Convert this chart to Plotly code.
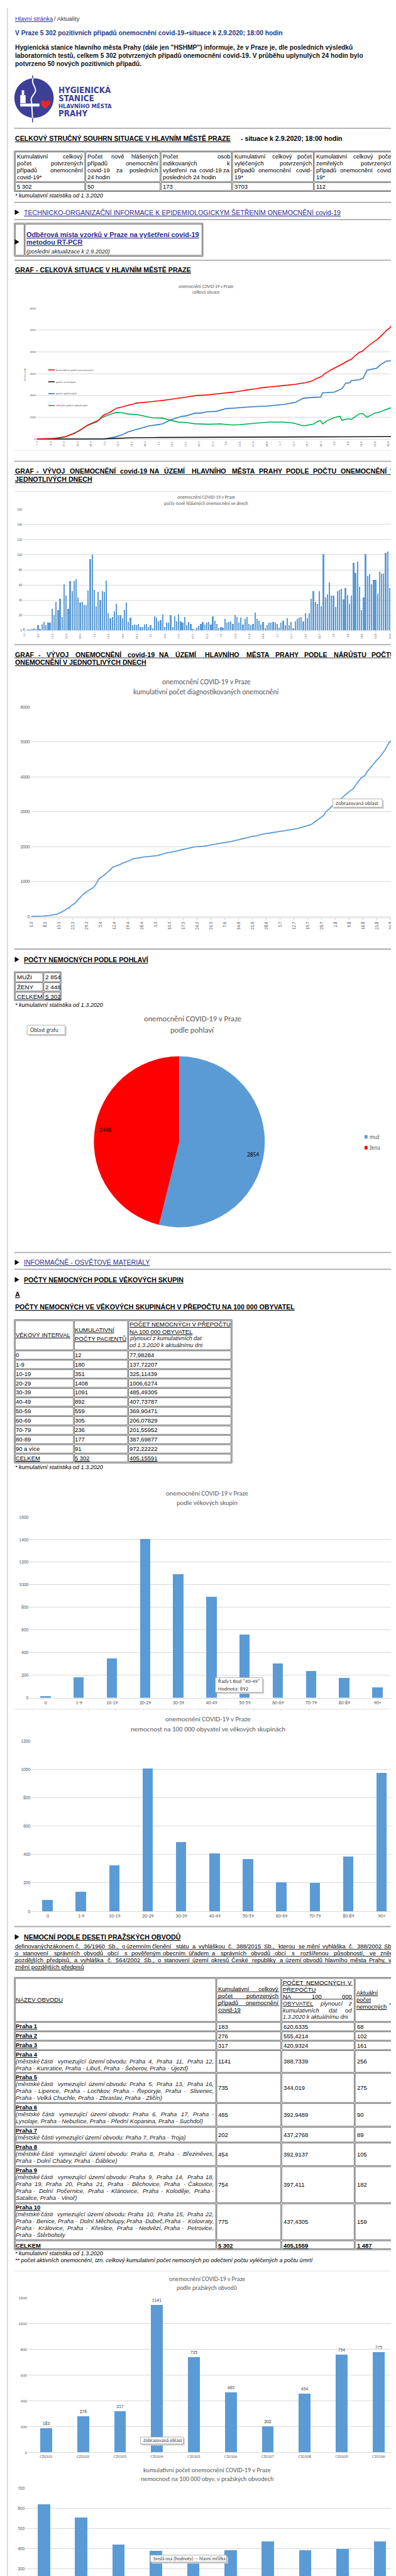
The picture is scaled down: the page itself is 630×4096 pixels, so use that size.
import plotly.graph_objects as go
from itertools import accumulate

# ======================= DATA =======================
SUMMARY_HEADERS = [
    ["Kumulativní celkový", "počet potvrzených", "případů onemocnění", "covid-19*"],
    ["Počet nově hlášených", "případů onemocnění", "covid-19 za posledních", "24 hodin"],
    ["Počet osob", "indikovaných k", "vyšetření na covid-19 za", "posledních 24 hodin"],
    ["Kumulativní celkový počet", "vyléčených potvrzených", "případů onemocnění covid-", "19*"],
    ["Kumulativní celkový počet", "zemřelých potvrzených", "případů onemocnění covid-", "19*"],
]
SUMMARY_VALUES = ["5 302", "50", "173", "3703", "112"]

DATE_TICKS = ["1.3", "8.3", "15.3", "22.3", "29.3", "5.4", "12.4", "19.4", "26.4", "3.5",
              "10.5", "17.5", "24.5", "31.5", "7.6", "14.6", "21.6", "28.6", "5.7", "12.7",
              "19.7", "26.7", "2.8", "9.8", "16.8", "23.8", "30.8"]

DAILY_NEW = [3, 0, 1, 1, 2, 3, 2,
             7, 2, 8, 11, 7, 10, 10,
             29, 20, 38, 27, 42, 18, 61,
             46, 29, 65, 52, 65, 68, 44,
             37, 38, 34, 34, 53, 94, 100,
             54, 32, 51, 40, 52, 51, 66,
             23, 16, 18, 25, 35, 20, 20,
             16, 27, 37, 11, 17, 7, 8,
             7, 9, 5, 5, 8, 9, 5,
             7, 3, 19, 17, 12, 14, 21,
             5, 10, 10, 20, 5, 19, 12,
             21, 12, 10, 18, 7, 11, 9,
             2, 1, 4, 6, 9, 11, 8,
             10, 11, 8, 19, 13, 9, 3,
             5, 4, 15, 10, 11, 12, 9,
             20, 18, 10, 17, 8, 15, 18,
             9, 7, 9, 24, 15, 13, 8,
             11, 3, 7, 10, 10, 11, 10,
             9, 4, 10, 13, 7, 16, 7,
             11, 3, 12, 15, 17, 18, 12,
             23, 16, 23, 42, 52, 38, 35,
             52, 32, 101, 44, 48, 64, 46,
             46, 31, 52, 54, 55, 41, 56,
             47, 35, 46, 89, 76, 91, 58,
             27, 44, 101, 72, 74, 61, 67, 67, 49, 78, 75, 75, 103, 104, 56, 80, 142, 50]

RECOVERED_DAYS = [0, 35, 37, 41, 44, 46, 47, 52, 58, 63, 65, 69, 75, 77, 82, 85, 88, 93, 98, 102,
                  110, 119, 128, 134, 138, 143, 147, 148, 154, 158, 160, 162, 163, 167, 169, 171,
                  174, 176, 178, 181, 183, 185]
RECOVERED = [0, 0, 40, 110, 190, 270, 320, 455, 605, 665, 700, 870, 1045, 1060, 1190, 1190, 1250,
             1270, 1400, 1420, 1475, 1510, 1590, 1685, 1875, 1910, 1925, 2115, 2150, 2305, 2565,
             2580, 2680, 2720, 2790, 3155, 3205, 3245, 3410, 3570, 3585, 3703]

DEATHS_DAYS = [0, 24, 30, 35, 40, 45, 50, 60, 75, 88, 100, 130, 150, 160, 185]
DEATHS = [0, 0, 3, 12, 30, 48, 62, 72, 80, 88, 90, 93, 100, 108, 112]

ACTIVE_DAYS = [0, 7, 10, 14, 16, 21, 26, 31, 34, 37, 39, 41, 44, 47, 52, 56, 60, 65, 69, 73, 78,
               82, 89, 95, 101, 105, 114, 120, 128, 133, 138, 143, 146, 147, 148, 150, 154, 157,
               158, 161, 163, 167, 169, 171, 175, 178, 181, 185]
ACTIVE = [3, 14, 40, 95, 150, 345, 620, 790, 1000, 1110, 1170, 1220, 1210, 1155, 1120, 1035, 970,
          960, 870, 780, 755, 700, 680, 695, 645, 660, 735, 775, 775, 735, 605, 680, 830, 840,
          695, 830, 985, 1045, 860, 925, 910, 1160, 1160, 1000, 1190, 1250, 1360, 1487]

SEX_LEGEND = ["muž", "žena"]
SEX_VALUES = [2854, 2448]
SEX_TABLE_LABELS = ["MUŽI", "ŽENY", "CELKEM"]
SEX_TABLE_VALUES = ["2 854", "2 448", "5 302"]

AGE_INTERVALS = ["0", "1-9", "10-19", "20-29", "30-39", "40-49", "50-59", "60-69", "70-79",
                 "80-89", "90 a více"]
AGE_CHART_LABELS = ["0", "1-9", "10-19", "20-29", "30-39", "40-49", "50-59", "60-69", "70-79",
                    "80-89", "90+"]
AGE_CASES = [12, 180, 351, 1408, 1091, 892, 559, 305, 236, 177, 91]
AGE_RATE = [77.98284, 137.72207, 325.11439, 1006.6274, 485.49305, 407.73787, 369.90471,
            206.07829, 201.55952, 387.69877, 972.22222]
AGE_TOTAL = ["CELKEM", "5 302", "405,15591"]

DISTRICTS = ["Praha 1", "Praha 2", "Praha 3", "Praha 4", "Praha 5", "Praha 6", "Praha 7",
             "Praha 8", "Praha 9", "Praha 10"]
DISTRICT_NOTES = [
    [], [], [],
    ["(městské části vymezující území obvodu: Praha 4, Praha 11, Praha 12,",
     "Praha - Kunratice, Praha - Libuš, Praha - Šeberov, Praha - Újezd)"],
    ["(městské části vymezující území obvodu: Praha 5, Praha 13, Praha 16,",
     "Praha - Lipence, Praha - Lochkov, Praha - Řeporyje, Praha - Slivenec,",
     "Praha - Velká Chuchle, Praha - Zbraslav, Praha - Zličín)"],
    ["(městské části vymezující území obvodu: Praha 6, Praha 17, Praha -",
     "Lysolaje, Praha - Nebušice, Praha - Přední Kopanina, Praha - Suchdol)"],
    ["(městské části vymezující území obvodu: Praha 7, Praha - Troja)"],
    ["(městské části vymezující území obvodu: Praha 8, Praha - Březiněves,",
     "Praha - Dolní Chabry, Praha - Ďáblice)"],
    ["(městské části vymezující území obvodu: Praha 9, Praha 14, Praha 18,",
     "Praha 19, Praha 20, Praha 21, Praha - Běchovice, Praha - Čakovice,",
     "Praha - Dolní Počernice, Praha - Klánovice, Praha - Koloděje, Praha -",
     "Satalice, Praha - Vinoř)"],
    ["(městské části vymezující území obvodu: Praha 10, Praha 15, Praha 22,",
     "Praha - Benice, Praha - Dolní Měcholupy, Praha -Dubeč, Praha - Kolovraty,",
     "Praha - Královice, Praha - Křeslice, Praha - Nedvězí, Praha - Petrovice,",
     "Praha - Štěrboholy"],
]
DISTRICT_CODES = ["CZ0101", "CZ0102", "CZ0103", "CZ0104", "CZ0105", "CZ0106", "CZ0107",
                  "CZ0108", "CZ0109", "CZ010A"]
DIST_CASES = [183, 276, 317, 1141, 735, 465, 202, 454, 754, 775]
DIST_RATE = [620.6335, 555.4214, 420.9324, 388.7339, 344.019, 392.9489, 437.2768, 392.9137,
             397.411, 437.4305]
DIST_ACTIVE = [68, 102, 161, 256, 275, 90, 89, 105, 182, 159]
DIST_TOTAL = ["CELKEM", "5 302", "405,1559", "1 487"]

# ======================= HELPERS =======================
S = 0.787
W, H = 800.0, 5200.0
PAGE = "Liberation Sans, Arial, sans-serif"
NARROW = "Liberation Sans Narrow, Arial Narrow, DejaVu Sans Condensed, Roboto, sans-serif"
CHART = "Carlito, Calibri, Lato, sans-serif"
TXT = "#595959"
GRID = "#D9D9D9"
BAR = "#5B9BD5"
LINKC = "#2B2B9A"
BORDER = "#404040"
HEAD = 13.5
LINKSZ = 13.5

ann, shp = [], []


def px(x):
    return x / W


def py(y):
    return 1 - y / H


def clamp(v):
    return max(0.0, min(1.0, v))


def fmt(s, b=False, i=False, u=False):
    if u:
        s = "<u>" + s + "</u>"
    if i:
        s = "<i>" + s + "</i>"
    if b:
        s = "<b>" + s + "</b>"
    return s


def T(x, y, s, size=12, color="#000000", b=False, i=False, u=False, anchor="left",
      font=PAGE, angle=0):
    ann.append(dict(x=px(x), y=py(y), xref="paper", yref="paper", text=fmt(s, b, i, u),
                    showarrow=False, xanchor=anchor, yanchor="middle", textangle=angle,
                    borderpad=0, font=dict(size=size * S, color=color, family=font)))


def L(x0, y0, x1, y1, color="#A0A0A0", w=1):
    shp.append(dict(type="line", xref="paper", yref="paper", x0=px(x0), y0=py(y0),
                    x1=px(x1), y1=py(y1), line=dict(color=color, width=w * S)))


def R(x0, y0, x1, y1, line=BORDER, fill="rgba(0,0,0,0)", w=1):
    shp.append(dict(type="rect", xref="paper", yref="paper", x0=px(x0), y0=py(y0),
                    x1=px(x1), y1=py(y1), fillcolor=fill,
                    line=dict(color=line, width=w * S)))


def PATH(pts, fill=None, line=None, w=1, closed=True):
    d = ""
    for p in pts:
        if isinstance(p, str):
            d += p + " "
        else:
            d += "%.6f,%.6f " % (px(p[0]), py(p[1]))
    if closed:
        d += "Z"
    shp.append(dict(type="path", xref="paper", yref="paper", path=d,
                    fillcolor=fill if fill else "rgba(0,0,0,0)",
                    line=dict(color=line if line else "rgba(0,0,0,0)", width=w * S)))


def HR(y):
    L(15, y, 789, y, "#A0A0A0", 2)


def TRI(y):
    PATH(["M", (16, y - 5.5), "L", (16, y + 5.5), "L", (25, y)], fill="#000000")


def est_w(word, size, b=False):
    t = 0.0
    for ch in word:
        if ch.isupper():
            t += 0.72 if b else 0.67
        elif ch.islower():
            t += 0.53 if b else 0.48
        elif ch.isdigit():
            t += 0.556
        elif ch == " ":
            t += 0.278
        else:
            t += 0.30
    return t * size


def JUST(items, x0, x1, y, size=12, color="#000000", b=False, i=False, ul=False, font=PAGE):
    if isinstance(items, str):
        items = [(w, {}) for w in items.split()]
    if ul:
        L(x0, y + 0.5 * size, x1, y + 0.5 * size, color, 1)
    n = len(items)
    ws = [est_w(w, size, b) for w, f in items]
    if n == 1:
        w, f = items[0]
        T(x0, y, w, size, color, b, f.get("i", i), f.get("u", False), "left", font)
        return
    gap = (x1 - x0 - sum(ws)) / (n - 1)
    pos = x0
    for k, ((w, f), ww) in enumerate(zip(items, ws)):
        ii = f.get("i", i)
        uu = f.get("u", False)
        if k == 0:
            T(x0, y, w, size, color, b, ii, uu, "left", font)
        elif k == n - 1:
            T(x1, y, w, size, color, b, ii, uu, "right", font)
        else:
            T(pos + ww / 2, y, w, size, color, b, ii, uu, "center", font)
        pos += ww + gap


def TABLE(cols, rows):
    R(cols[0], rows[0], cols[-1], rows[-1])
    nc, nr = len(cols) - 1, len(rows) - 1
    for a in range(nc):
        for r in range(nr):
            x0 = cols[a] + 2
            x1 = cols[a + 1] if a < nc - 1 else cols[-1] - 2
            y0 = rows[r] + 2
            y1 = rows[r + 1] if r < nr - 1 else rows[-1] - 2
            R(x0, y0, x1, y1)


def TIP(x0, y0, x1, y1, lines, size=11):
    R(x0 + 3, y0 + 3, x1 + 3, y1 + 3, line="rgba(0,0,0,0)", fill="#CFCFCF")
    R(x0, y0, x1, y1, line="#9A9A9A", fill="#FFFFFF")
    n = len(lines)
    step = (y1 - y0) / n
    for k, s in enumerate(lines):
        T(x0 + 5, y0 + step * (k + 0.5), s, size, "#404040", font=CHART)


def ymap(va, pa, vb, pb, r0, r1):
    k = (pb - pa) / (vb - va)
    f = lambda v: pa + (v - va) * k
    return [clamp(1 - f(r0) / H), clamp(1 - f(r1) / H)], [r0, r1]


def xmap(va, pa, vb, pb, p0, p1):
    k = (pb - pa) / (vb - va)
    inv = lambda p: va + (p - pa) / k
    return [clamp(p0 / W), clamp(p1 / W)], [inv(p0), inv(p1)]


def yax(dom, rng, tickvals, size, anchor):
    return dict(domain=dom, range=rng, anchor=anchor, tickvals=tickvals,
                tickfont=dict(size=size * S, color=TXT, family=CHART), showgrid=True,
                gridcolor=GRID, gridwidth=1, zeroline=False, showline=False, ticks="",
                fixedrange=True)


def xcat(dom, n, size, anchor, showlabels=True):
    return dict(domain=dom, range=[-0.5, n - 0.5], anchor=anchor, type="category",
                tickfont=dict(size=size * S, color=TXT, family=CHART), showgrid=False,
                zeroline=False, showline=True, linecolor=GRID, linewidth=1, ticks="",
                showticklabels=showlabels, fixedrange=True)


# ======================= PAGE TEXT =======================
L(1, 0, 1, 5200, "#C4C4C4", 1.5)

T(15, 21, "Hlavní stránka", 12, LINKC, u=True)
T(95, 21, "/ Aktuality", 12, "#333333")
T(15, 50, "V Praze 5 302 pozitivních případů onemocnění covid-19-•situace k 2.9.2020; 18:00 hodin",
  13, "#1B3A8C", b=True)
para = ['Hygienická stanice hlavního města Prahy (dále jen "HSHMP") informuje, že v Praze je, dle posledních výsledků',
        "laboratorních testů, celkem 5 302 potvrzených případů onemocnění covid-19. V průběhu uplynulých 24 hodin bylo",
        "potvrzeno 50 nových pozitivních případů."]
for k, s in enumerate(para):
    T(15, 80 + 16 * k, s, 13, "#111111", b=True)

# logo
LOGO = "#3D3F97"
shp.append(dict(type="circle", xref="paper", yref="paper", x0=px(15), x1=px(95),
                y0=py(222), y1=py(142), fillcolor=LOGO, line=dict(width=0)))
L(52, 136, 52, 144, LOGO, 2)
L(52, 221, 52, 231, LOGO, 2)
PATH(["M", (53, 142), "C", (48, 152), (60, 160), (58, 168), "C", (56, 176), (46, 180), (50, 190),
      "L", (52, 222)], line="#FFFFFF", w=2.5, closed=False)
R(27, 176, 38, 192, line="rgba(0,0,0,0)", fill="#FFFFFF")
R(30, 166, 35, 176, line="rgba(0,0,0,0)", fill="#FFFFFF")
R(27, 193, 66, 199, line="rgba(0,0,0,0)", fill="#FFFFFF")
PATH(["M", (78, 204), "C", (70, 197), (67, 192), (70, 188), "C", (73, 185), (77, 186), (79, 190),
      "C", (81, 186), (86, 185), (88, 188), "C", (90, 192), (86, 197), (78, 204)], fill="#E3262D")
T(103, 165, "HYGIENICKÁ", 17, LOGO, b=True, font=NARROW)
T(103, 182, "STANICE", 17, LOGO, b=True, font=NARROW)
T(103, 198, "HLAVNÍHO MĚSTA", 12, LOGO, b=True, font=NARROW)
T(103, 213, "PRAHY", 17, LOGO, b=True, font=NARROW)

HR(243)
T(15, 264, "CELKOVÝ STRUČNÝ SOUHRN SITUACE V HLAVNÍM MĚSTĚ PRAZE", HEAD, "#000000", b=True,
  u=True)
T(473, 264, "- situace k 2.9.2020; 18:00 hodin", HEAD, "#000000", b=True)

# summary table
cols1 = [15, 158, 311, 456, 622, 789]
TABLE(cols1, [289, 351, 371])
for c in range(5):
    x0 = cols1[c] + 4
    x1 = cols1[c + 1] - (2 if c < 4 else 4)
    lines = SUMMARY_HEADERS[c]
    for k, s in enumerate(lines):
        yy = 300 + 14 * k
        if k < len(lines) - 1:
            JUST(s, x0, x1, yy, 12, "#000000")
        else:
            T(x0, yy, s, 12, "#000000")
    T(x0, 361, SUMMARY_VALUES[c], 12, "#000000")
T(15, 379, "* kumulativní statistika od 1.3.2020", 11.5, "#000000", i=True)
HR(393)
TRI(413)
T(33, 413, "TECHNICKO-ORGANIZAČNÍ INFORMACE K EPIDEMIOLOGICKÝM ŠETŘENÍM ONEMOCNĚNÍ covid-19",
  LINKSZ, LINKC, u=True)
HR(428)

# odberova mista box
R(15, 435, 398, 502)
R(17, 437, 35, 500)
R(37, 437, 396, 500)
TRI(473)
T(38, 458, "Odběrová místa vzorků v Praze na vyšetření covid-19", 13.8, LINKC, b=True, u=True)
T(38, 474, "metodou RT-PCR", 13.8, LINKC, b=True, u=True)
T(38, 492, "(poslední aktualizace k 2.9.2020)", 11.5, "#222222", i=True)
HR(510)
T(15, 530, "GRAF - CELKOVÁ SITUACE V HLAVNÍM MĚSTĚ PRAZE", HEAD, "#000000", b=True, u=True)

# ---------------- chart 1 ----------------
T(405, 563, "onemocnění COVID-19 v Praze", 9, TXT, anchor="center", font=CHART)
T(405, 575, "celková situace", 9, TXT, anchor="center", font=CHART)
T(36, 740, "Počet osob", 5.5, TXT, anchor="center", font=CHART, angle=-90)
legend_items = [("kumulativní počet onemocnění", "#FF0000"), ("počet zemřelých", "#1A1A1A"),
                ("počet vyléčených", "#2E78C7"), ("aktuální počet nakažených", "#00B050")]
for k, (s, c) in enumerate(legend_items):
    yy = 732 + 24 * k
    L(84, yy, 97, yy, c, 2)
    T(98, yy, s, 6, TXT, font=CHART)
L(15, 895, 797, 895, "#DDDDDD", 1)

HR(917)
JUST("GRAF - VÝVOJ ONEMOCNĚNÍ covid-19 NA ÚZEMÍ HLAVNÍHO MĚSTA PRAHY PODLE POČTU ONEMOCNĚNÍ V",
     15, 789, 937, HEAD, "#000000", b=True, ul=True)
T(15, 953, "JEDNOTLIVÝCH DNECH", HEAD, "#000000", b=True, u=True)
L(15, 978, 797, 978, "#DDDDDD", 1)
T(405, 990, "onemocnění COVID-19 v Praze", 9.5, TXT, anchor="center", font=CHART)
T(405, 1002, "počty nově hlášených onemocnění ve dnech", 9.5, TXT, anchor="center", font=CHART)
HR(1288)

JUST("GRAF - VÝVOJ ONEMOCNĚNÍ covid-19 NA ÚZEMÍ HLAVNÍHO MĚSTA PRAHY PODLE NÁRŮSTU POČTU",
     15, 789, 1308, HEAD, "#000000", b=True, ul=True)
T(15, 1324, "ONEMOCNĚNÍ V JEDNOTLIVÝCH DNECH", HEAD, "#000000", b=True, u=True)
T(405, 1363, "onemocnění COVID-19 v Praze", 14.5, TXT, anchor="center", font=CHART)
T(405, 1383, "kumulativní počet diagnostikovaných onemocnění", 14.5, TXT, anchor="center",
  font=CHART)
TIP(661, 1600, 762, 1617, ["Zobrazovaná oblast"], 11)

HR(1904)
TRI(1925)
T(33, 1925, "POČTY NEMOCNÝCH PODLE POHLAVÍ", HEAD, "#000000", b=True, u=True)
colsS = [15, 73, 110]
rowsS = [1950, 1970, 1989, 2008]
TABLE(colsS, rowsS)
for k in range(3):
    yy = (rowsS[k] + rowsS[k + 1]) / 2 + 1
    T(19, yy, SEX_TABLE_LABELS[k], 12.5, "#000000")
    T(76, yy, SEX_TABLE_VALUES[k], 12.5, "#000000", u=(k == 2))
T(15, 2017, "* kumulativní statistika od 1.3.2020", 11.5, "#000000", i=True)
T(377, 2044, "onemocnění COVID-19 v Praze", 16, TXT, anchor="center", font=CHART)
T(377, 2068, "podle pohlaví", 16, TXT, anchor="center", font=CHART)
TIP(41, 2058, 118, 2077, ["Oblast grafu"], 11.5)
T(200, 2271, str(SEX_VALUES[1]), 12, "#000000", anchor="center", font=CHART)
T(500, 2320, str(SEX_VALUES[0]), 12, "#000000", anchor="center", font=CHART)
for k, (s, c) in enumerate(zip(SEX_LEGEND, [BAR, "#FF0000"])):
    yy = 2284 + 22 * k
    R(726, yy - 3.5, 732, yy + 3.5, line="rgba(0,0,0,0)", fill=c)
    T(735, yy, s, 11.5, TXT, font=CHART)

HR(2518)
TRI(2538)
T(33, 2538, "INFORMAČNĚ - OSVĚTOVÉ MATERIÁLY", LINKSZ, LINKC, u=True)
HR(2552)
TRI(2573)
T(33, 2573, "POČTY NEMOCNÝCH PODLE VĚKOVÝCH SKUPIN", HEAD, "#000000", b=True, u=True)
T(15, 2602, "A", HEAD, "#000000", b=True, u=True)
T(15, 2628, "POČTY NEMOCNÝCH VE VĚKOVÝCH SKUPINÁCH V PŘEPOČTU NA 100 000 OBYVATEL", HEAD,
  "#000000", b=True, u=True)

# age table
colsA = [15, 135, 245, 457]
rowsA = [2654] + [2715 + 19 * k for k in range(13)]
rowsA[-1] = 2944
TABLE(colsA, rowsA)
T(17, 2685, "VĚKOVÝ INTERVAL", 12, "#000000", u=True)
T(137, 2675, "KUMULATIVNÍ", 12, "#000000", u=True)
T(137, 2692, "POČTY PACIENTŮ", 12, "#000000", u=True)
T(248, 2663, "POČET NEMOCNÝCH V PŘEPOČTU", 12, "#000000", u=True)
T(248, 2678, "NA 100 000 OBYVATEL", 12, "#000000", u=True)
T(248, 2692, "plynoucí z kumulativních dat", 11.5, "#222222", i=True)
T(248, 2706, "od 1.3.2020 k aktuálnímu dni", 11.5, "#222222", i=True)
for k in range(11):
    yy = 2725 + 19 * k
    T(17, yy, AGE_INTERVALS[k], 12, "#000000")
    T(137, yy, str(AGE_CASES[k]), 12, "#000000")
    T(248, yy, str(AGE_RATE[k]).replace(".", ","), 12, "#000000")
yy = 2725 + 19 * 11
T(17, yy, AGE_TOTAL[0], 12, "#000000", u=True)
T(137, yy, AGE_TOTAL[1], 12, "#000000", u=True)
T(248, yy, AGE_TOTAL[2], 12, "#000000", u=True)
T(15, 2952, "* kumulativní statistika od 1.3.2020", 11.5, "#000000", i=True)

T(406, 3005, "onemocnění COVID-19 v Praze", 13.5, TXT, anchor="center", font=CHART)
T(406, 3025, "podle věkových skupin", 13.5, TXT, anchor="center", font=CHART)
TIP(423, 3378, 519, 3408, ['Řady1 Bod "40-49"', "Hodnota: 892"], 11)
L(15, 3442, 797, 3442, "#D6D6D6", 1)
for k in range(14):
    xx = 53 + 56 * k
    L(xx, 3442, xx, 3446, "#D6D6D6", 1)
T(408, 3462, "onemocnění COVID-19 v Praze", 14, TXT, anchor="center", font=CHART)
T(408, 3482, "nemocnost na 100 000 obyvatel ve věkových skupinách", 14, TXT, anchor="center",
  font=CHART)

HR(3882)
TRI(3903)
T(33, 3903, "NEMOCNÍ PODLE DESETI PRAŽSKÝCH OBVODŮ", HEAD, "#000000", b=True, u=True)
law = ["definovaných zákonem č. 36/1960 Sb., o územním členění státu a vyhláškou č. 388/2015 Sb., kterou se mění vyhláška č. 388/2002 Sb.,",
       "o stanovení správních obvodů obcí s pověřeným obecním úřadem a správních obvodů obcí s rozšířenou působností, ve znění",
       "pozdějších předpisů, a vyhláška č. 564/2002 Sb., o stanovení území okresů České republiky a území obvodů hlavního města Prahy, ve"]
for k, s in enumerate(law):
    JUST(s, 15, 789, 3922 + 14 * k, 12, "#000000", ul=True)
T(15, 3964, "znění pozdějších předpisů", 12, "#000000", u=True)

# districts table
colsD = [15, 424, 556, 705, 789]
rowsD = [3985, 4074, 4093, 4112, 4131, 4177, 4238, 4286, 4318, 4366, 4441, 4516, 4536]
TABLE(colsD, rowsD)
T(17, 4030, "NÁZEV OBVODU", 12, "#000000", u=True)
for k, s in enumerate(["Kumulativní celkový", "počet potvrzených", "případů onemocnění"]):
    JUST(s, 427, 553, 4008 + 14 * k, 12, "#000000", ul=True)
T(427, 4050, "covid-19", 12, "#000000", u=True)
JUST("POČET NEMOCNÝCH V", 559, 702, 3995, 12, "#000000", ul=True)
T(559, 4009, "PŘEPOČTU", 12, "#000000", u=True)
JUST("NA 100 000", 559, 702, 4023, 12, "#000000", ul=True)
JUST([("OBYVATEL", {"u": True}), ("plynoucí", {"i": True}), ("z", {"i": True})],
     559, 702, 4037, 12, "#222222")
JUST("kumulativních dat od", 559, 702, 4051, 12, "#222222", i=True)
T(559, 4065, "1.3.2020 k aktuálnímu dni", 11.5, "#222222", i=True)
T(708, 4016, "Aktuální", 12, "#000000", u=True)
T(708, 4030, "počet", 12, "#000000", u=True)
T(708, 4044, "nemocných", 12, "#000000", u=True)
T(775, 4041, "**", 9, "#000000")
for k in range(10):
    top, bot = rowsD[k + 1], rowsD[k + 2]
    T(17, top + 9, DISTRICTS[k], 12, "#000000", b=True, u=True)
    notes = DISTRICT_NOTES[k]
    for j, s in enumerate(notes):
        yy = top + 23 + 14 * j
        if j < len(notes) - 1:
            JUST(s, 17, 421, yy, 12, "#222222", i=True)
        else:
            T(17, yy, s, 12, "#222222", i=True)
    yc = (top + bot) / 2 + 1
    T(428, yc, str(DIST_CASES[k]), 12, "#000000")
    T(560, yc, str(DIST_RATE[k]).replace(".", ","), 12, "#000000")
    T(709, yc, str(DIST_ACTIVE[k]), 12, "#000000")
yc = (rowsD[-2] + rowsD[-1]) / 2 + 1
T(17, yc, DIST_TOTAL[0], 12, "#000000", b=True, u=True)
T(428, yc, DIST_TOTAL[1], 12, "#000000", b=True, u=True)
T(560, yc, DIST_TOTAL[2], 12, "#000000", b=True, u=True)
T(709, yc, DIST_TOTAL[3], 12, "#000000", b=True, u=True)
T(15, 4543, "* kumulativní statistika od 1.3.2020", 11.5, "#000000", i=True)
T(15, 4557, "** počet aktivních onemocnění, tzn. celkový kumulativní počet nemocných po odečtení počtu vyléčených a počtu úmrtí",
  11.5, "#000000", i=True)
L(15, 4579, 797, 4579, "#DDDDDD", 1)
T(406, 4596, "onemocnění COVID-19 v Praze", 12.5, TXT, anchor="center", font=CHART)
T(406, 4613, "podle pražských obvodů", 12.5, TXT, anchor="center", font=CHART)
TIP(271, 4915, 358, 4929, ["Zobrazovaná oblast"], 10)
T(407, 4982, "kumulativní počet onemocnění COVID-19 v Praze", 13, TXT, anchor="center",
  font=CHART)
T(407, 4999, "nemocnost na 100 000 obyv. v pražských obvodech", 13, TXT, anchor="center",
  font=CHART)
TIP(291, 5154, 446, 5168, ["Svislá osa (hodnoty)  – hlavní mřížka"], 10)

# ======================= TRACES =======================
days = list(range(len(DAILY_NEW)))
cumulative = list(accumulate(DAILY_NEW))
tick_pos = days[::7]

fig = go.Figure()
# chart 1
fig.add_trace(go.Scatter(x=ACTIVE_DAYS, y=ACTIVE, mode="lines", xaxis="x", yaxis="y",
                         line=dict(color="#00B050", width=2 * S), hoverinfo="skip"))
fig.add_trace(go.Scatter(x=RECOVERED_DAYS, y=RECOVERED, mode="lines", xaxis="x", yaxis="y",
                         line=dict(color="#2E78C7", width=2 * S), hoverinfo="skip"))
fig.add_trace(go.Scatter(x=DEATHS_DAYS, y=DEATHS, mode="lines", xaxis="x", yaxis="y",
                         line=dict(color="#1A1A1A", width=2 * S), hoverinfo="skip"))
fig.add_trace(go.Scatter(x=days, y=cumulative, mode="lines", xaxis="x", yaxis="y",
                         line=dict(color="#FF0000", width=2 * S), hoverinfo="skip"))
# chart 2
fig.add_trace(go.Bar(x=days, y=DAILY_NEW, xaxis="x2", yaxis="y2", width=0.55,
                     marker=dict(color=BAR, line=dict(width=0)), hoverinfo="skip"))
# chart 3
fig.add_trace(go.Scatter(x=days, y=cumulative, mode="lines", xaxis="x3", yaxis="y3",
                         line=dict(color=BAR, width=2.3 * S), hoverinfo="skip"))
# pie
fig.add_trace(go.Pie(values=SEX_VALUES, labels=SEX_LEGEND, sort=False, direction="clockwise",
                     rotation=0, textinfo="none", textposition="none", hoverinfo="skip",
                     showlegend=False,
                     marker=dict(colors=[BAR, "#FF0000"], line=dict(width=0)),
                     domain=dict(x=[176 / W, 524 / W], y=[py(2467), py(2121)])))
# age charts
fig.add_trace(go.Bar(x=AGE_CHART_LABELS, y=AGE_CASES, xaxis="x4", yaxis="y4", width=0.31,
                     marker=dict(color=BAR, line=dict(width=0)), hoverinfo="skip"))
fig.add_trace(go.Bar(x=AGE_CHART_LABELS, y=AGE_RATE, xaxis="x5", yaxis="y5", width=0.31,
                     marker=dict(color=BAR, line=dict(width=0)), hoverinfo="skip"))
# district charts
fig.add_trace(go.Bar(x=DISTRICT_CODES, y=DIST_CASES, xaxis="x6", yaxis="y6", width=0.32,
                     text=[str(v) for v in DIST_CASES], textposition="outside",
                     cliponaxis=False,
                     textfont=dict(size=9.5 * S, color="#404040", family=CHART),
                     marker=dict(color=BAR, line=dict(width=0)), hoverinfo="skip"))
fig.add_trace(go.Bar(x=DISTRICT_CODES, y=DIST_RATE, xaxis="x7", yaxis="y7", width=0.33,
                     marker=dict(color=BAR, line=dict(width=0)), hoverinfo="skip"))

# ======================= AXES =======================
lay = {}
d, r = xmap(0, 61, 182, 774, 60, 789)
lay["xaxis"] = dict(domain=d, range=r, anchor="y", tickvals=tick_pos, ticktext=DATE_TICKS,
                    tickangle=-90, tickfont=dict(size=6 * S, color=TXT, family=CHART),
                    showgrid=False, zeroline=False, showline=False, ticks="", fixedrange=True)
d, r = ymap(0, 872, 6000, 607, -60, 6000)
lay["yaxis"] = yax(d, r, list(range(0, 6001, 1000)), 6, "x")

d, r = xmap(0, 34.9, 182, 777.4, 32, 792)
lay["xaxis2"] = dict(domain=d, range=r, anchor="y2", tickvals=tick_pos, ticktext=DATE_TICKS,
                     tickangle=-90, tickfont=dict(size=6 * S, color=TXT, family=CHART),
                     showgrid=False, zeroline=False, showline=True, linecolor=GRID,
                     ticks="outside", ticklen=3 * S, tickcolor=GRID, fixedrange=True)
d, r = ymap(0, 1259, 160, 1014, 0, 160)
lay["yaxis2"] = yax(d, r, list(range(0, 161, 20)), 6.5, "x2")

d, r = xmap(0, 49.7, 182, 779.5, 48, 795)
lay["xaxis3"] = dict(domain=d, range=r, anchor="y3", tickvals=tick_pos, ticktext=DATE_TICKS,
                     tickangle=-90, tickfont=dict(size=9 * S, color=TXT, family=CHART),
                     showgrid=False, zeroline=False, showline=True, linecolor=GRID,
                     ticks="outside", ticklen=4 * S, tickcolor=GRID, fixedrange=True)
d, r = ymap(0, 1838, 6000, 1414, -25, 6000)
lay["yaxis3"] = yax(d, r, list(range(0, 6001, 1000)), 9.5, "x3")

lay["xaxis4"] = xcat([45 / W, 786 / W], 11, 10, "y4")
d, r = ymap(0, 3419, 1600, 3053, 0, 1600)
lay["yaxis4"] = yax(d, r, list(range(0, 1601, 200)), 9.5, "x4")

lay["xaxis5"] = xcat([49 / W, 795 / W], 11, 10, "y5")
d, r = ymap(0, 3851, 1200, 3506, 0, 1200)
lay["yaxis5"] = yax(d, r, list(range(0, 1201, 200)), 9.5, "x5")

lay["xaxis6"] = xcat([42 / W, 792 / W], 10, 8.5, "y6")
d, r = ymap(0, 4946, 1200, 4633, 0, 1200)
lay["yaxis6"] = yax(d, r, list(range(0, 1201, 200)), 8.5, "x6")

lay["xaxis7"] = xcat([37 / W, 795 / W], 10, 8.5, "y7", showlabels=False)
lay["xaxis7"]["showline"] = False
d, r = ymap(300, 5181, 700, 5019, 253, 700)
lay["yaxis7"] = yax(d, r, list(range(300, 701, 100)), 9, "x7")

fig.update_layout(**lay)
fig.update_layout(width=630, height=4096, margin=dict(l=0, r=0, t=0, b=0),
                  paper_bgcolor="#FFFFFF", plot_bgcolor="rgba(0,0,0,0)", showlegend=False,
                  bargap=0, annotations=ann, shapes=shp, hovermode=False,
                  font=dict(family=PAGE))
fig.write_html("out.html", config={"displayModeBar": False})
